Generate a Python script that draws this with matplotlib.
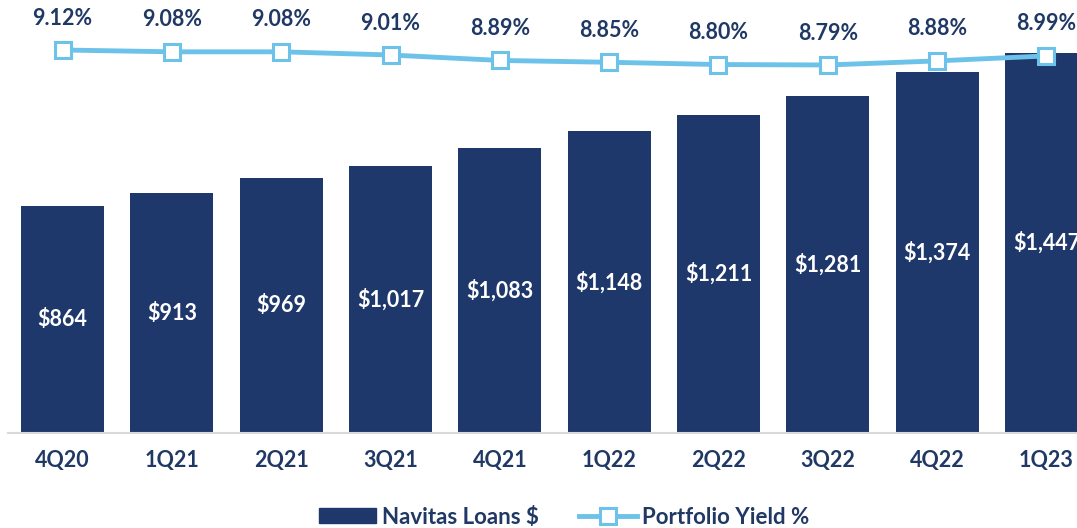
import matplotlib.pyplot as plt
from matplotlib.patches import Patch
from matplotlib.lines import Line2D

quarters = ["4Q20", "1Q21", "2Q21", "3Q21", "4Q21", "1Q22", "2Q22", "3Q22", "4Q22", "1Q23"]
loans = [864, 913, 969, 1017, 1083, 1148, 1211, 1281, 1374, 1447]
yields = [9.12, 9.08, 9.08, 9.01, 8.89, 8.85, 8.80, 8.79, 8.88, 8.99]

NAVY = "#1f386b"
TEXT = "#1f3864"
LIGHT = "#6cc2e8"

plt.rcParams["font.family"] = ["Lato", "DejaVu Sans"]
plt.rcParams["font.weight"] = "bold"

fig = plt.figure(figsize=(10.77, 5.28), dpi=100)
ax = fig.add_axes([8 / 1077, 95 / 528, 1069 / 1077, 433 / 528])

x = range(len(quarters))
bars = ax.bar(x, loans, width=0.76, color=NAVY, zorder=2)
for xi, v in zip(x, loans):
    ax.text(xi, v / 2, f"${v:,}", ha="center", va="center", color="white",
            fontsize=15.5, fontweight="bold", zorder=3)

ax.set_xlim(-0.5, 9.28)
ax.set_ylim(0, 1648)
ax.set_yticks([])
ax.set_xticks(list(x))
ax.set_xticklabels(quarters, fontsize=15.5, fontweight="bold", color=TEXT)
ax.tick_params(axis="x", length=0, pad=12)
for s in ["top", "right", "left"]:
    ax.spines[s].set_visible(False)
ax.spines["bottom"].set_color("#d9d9d9")
ax.spines["bottom"].set_linewidth(1.5)

ax2 = ax.twinx()
ax2.plot(list(x), yields, color=LIGHT, lw=3.5, marker="s", markersize=11,
         markerfacecolor="white", markeredgecolor=LIGHT, markeredgewidth=2.2,
         zorder=4, clip_on=False)
for xi, v in zip(x, yields):
    ax2.annotate(f"{v:.2f}%", (xi, v), xytext=(0, 23), textcoords="offset points",
                 ha="center", va="center", fontsize=15.5, fontweight="bold", color=TEXT)
ax2.set_ylim(0.693, 10.22)
ax2.set_yticks([])
ax2.axis("off")

handles = [
    Patch(facecolor=NAVY, edgecolor=NAVY),
    Line2D([0], [0], color=LIGHT, lw=3.5, marker="s", markersize=11,
           markerfacecolor="white", markeredgecolor=LIGHT, markeredgewidth=2.2),
]
fig.legend(handles, ["Navitas Loans $", "Portfolio Yield %"], loc="center",
           bbox_to_anchor=(564 / 1077, 11 / 528), ncol=2, frameon=False,
           prop={"size": 16, "weight": "bold"}, labelcolor=TEXT,
           handlelength=2.6, handleheight=0.65, handletextpad=0.25,
           columnspacing=1.8)

fig.savefig("out.png", dpi=100)
